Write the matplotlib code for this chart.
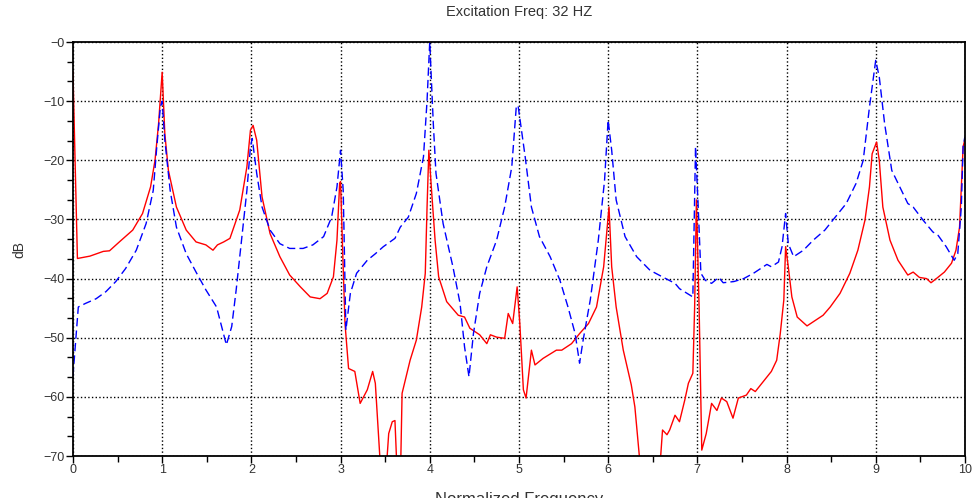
import matplotlib
matplotlib.use('Agg')
import matplotlib.pyplot as plt
from matplotlib.ticker import MultipleLocator, FuncFormatter

plt.rcParams['font.family'] = ['Liberation Sans', 'DejaVu Sans']

# red (solid) response
red_x = [0.0, 0.05, 0.19, 0.34, 0.41, 0.52, 0.67, 0.78, 0.87, 0.92, 0.96, 1.0,
         1.03, 1.07, 1.16, 1.27, 1.38, 1.49, 1.57, 1.62, 1.69, 1.76, 1.87, 1.95,
         1.99, 2.02, 2.06, 2.12, 2.21, 2.32, 2.43, 2.55, 2.66, 2.77, 2.85, 2.92,
         2.96, 2.99, 3.0, 3.02, 3.05, 3.09, 3.16, 3.22, 3.30, 3.36, 3.39, 3.44,
         3.50, 3.54, 3.58, 3.61, 3.64, 3.67, 3.69, 3.78, 3.85, 3.91, 3.95, 3.97,
         3.99, 4.02, 4.06, 4.10, 4.19, 4.32, 4.39, 4.45, 4.56, 4.64, 4.68, 4.75,
         4.84, 4.88, 4.93, 4.98, 5.01, 5.05, 5.08, 5.14, 5.18, 5.27, 5.42, 5.48,
         5.59, 5.68, 5.78, 5.87, 5.95, 5.99, 6.01, 6.04, 6.09, 6.17, 6.26, 6.30,
         6.35, 6.45, 6.58, 6.61, 6.66, 6.69, 6.75, 6.80, 6.86, 6.90, 6.95, 6.97,
         6.99, 7.02, 7.05, 7.10, 7.16, 7.22, 7.27, 7.33, 7.40, 7.46, 7.55, 7.60,
         7.65, 7.74, 7.83, 7.89, 7.93, 7.97, 7.99, 8.02, 8.06, 8.12, 8.23, 8.30,
         8.41, 8.49, 8.60, 8.71, 8.80, 8.88, 8.93, 8.96, 9.01, 9.04, 9.08, 9.16,
         9.25, 9.36, 9.42, 9.49, 9.57, 9.62, 9.68, 9.77, 9.85, 9.90, 9.94, 9.98,
         10.0]
red_db = [-5.0, -36.6, -36.2, -35.4, -35.3, -33.8, -31.8, -29.0, -24.5, -20.0, -13.8, -5.1,
          -15.5, -21.7, -27.9, -31.8, -33.8, -34.3, -35.2, -34.3, -33.8, -33.2, -28.4, -21.1,
          -14.9, -14.1, -16.6, -26.2, -32.4, -36.3, -39.4, -41.4, -43.1, -43.4, -42.5, -39.7,
          -33.5, -23.9, -23.6, -33.5, -47.6, -55.2, -55.7, -61.1, -58.8, -55.7, -57.7, -70.0,
          -75.0, -66.2, -64.2, -64.0, -75.0, -75.0, -59.4, -53.8, -50.4, -44.8, -39.1, -27.9,
          -18.3, -25.0, -33.5, -39.7, -43.9, -46.2, -46.5, -48.4, -49.5, -51.0, -49.5, -49.9,
          -50.1, -45.9, -47.6, -41.4, -47.6, -58.8, -60.2, -52.1, -54.6, -53.5, -52.1, -52.1,
          -51.0, -49.3, -47.6, -44.8, -38.0, -31.3, -27.9, -38.0, -44.8, -52.1, -58.0, -61.7,
          -70.0, -76.0, -72.0, -65.6, -66.4, -65.6, -63.1, -64.2, -60.5, -57.7, -56.0, -44.8,
          -26.7, -44.8, -69.0, -66.2, -61.1, -62.3, -60.2, -60.8, -63.6, -60.2, -59.7, -58.6,
          -59.1, -57.4, -55.7, -53.8, -49.3, -43.6, -34.6, -38.0, -43.1, -46.5, -48.0, -47.3,
          -46.2, -44.8, -42.5, -39.1, -35.2, -30.1, -24.5, -18.9, -16.9, -20.0, -27.9, -33.5,
          -36.9, -39.4, -38.9, -39.8, -40.0, -40.7, -40.0, -38.9, -37.4, -35.2, -31.3, -17.7,
          -16.5]

# blue (dashed) response
blue_x = [0.0, 0.06, 0.14, 0.26, 0.37, 0.48, 0.59, 0.71, 0.82, 0.90, 0.94, 0.98,
          1.0, 1.03, 1.09, 1.16, 1.27, 1.38, 1.49, 1.61, 1.72, 1.78, 1.83, 1.89,
          1.95, 1.99, 2.01, 2.06, 2.12, 2.21, 2.32, 2.43, 2.58, 2.69, 2.81, 2.90,
          2.96, 3.0, 3.03, 3.06, 3.11, 3.18, 3.30, 3.39, 3.48, 3.61, 3.67, 3.76,
          3.85, 3.93, 3.97, 4.0, 4.04, 4.07, 4.15, 4.26, 4.34, 4.39, 4.44, 4.49,
          4.56, 4.64, 4.75, 4.84, 4.92, 4.97, 4.99, 5.07, 5.14, 5.23, 5.35, 5.46,
          5.55, 5.63, 5.68, 5.72, 5.80, 5.89, 5.96, 6.0, 6.04, 6.09, 6.19, 6.32,
          6.47, 6.62, 6.75, 6.80, 6.95, 6.98, 7.01, 7.04, 7.09, 7.16, 7.24, 7.29,
          7.41, 7.52, 7.63, 7.78, 7.83, 7.91, 7.95, 7.99, 8.02, 8.08, 8.19, 8.30,
          8.43, 8.52, 8.67, 8.78, 8.86, 8.93, 9.0, 9.04, 9.10, 9.18, 9.27, 9.36,
          9.42, 9.53, 9.64, 9.70, 9.79, 9.88, 9.92, 9.96, 9.98, 10.0]
blue_db = [-56.5, -44.8, -44.2, -43.4, -42.2, -40.5, -38.3, -35.2, -30.7, -25.1, -17.7, -11.0,
           -10.0, -16.6, -25.1, -31.3, -35.8, -38.9, -41.9, -44.8, -51.2, -48.1, -41.9, -33.5,
           -25.1, -17.7, -16.3, -22.2, -27.9, -31.8, -34.1, -34.9, -34.9, -34.3, -32.9, -29.6,
           -24.5, -18.3, -25.1, -48.7, -42.5, -39.1, -36.9, -35.8, -34.6, -33.2, -31.3, -29.6,
           -25.6, -19.4, -9.9, 0.0, -13.8, -22.2, -30.7, -38.0, -44.2, -51.5, -56.6, -49.3,
           -42.5, -38.0, -33.5, -27.9, -21.1, -11.0, -10.7, -19.4, -27.9, -32.9, -36.3, -40.3,
           -44.8, -49.3, -54.3, -50.4, -43.6, -33.5, -23.4, -13.2, -18.3, -26.7, -32.9, -36.3,
           -38.6, -39.8, -40.8, -41.7, -43.1, -17.7, -27.9, -39.1, -40.3, -40.8, -39.8, -40.7,
           -40.5, -40.0, -39.1, -37.6, -38.0, -37.2, -34.6, -29.0, -34.1, -36.3, -35.2, -33.5,
           -31.8, -30.1, -27.3, -23.9, -20.0, -11.0, -3.1, -5.9, -13.8, -21.7, -24.5, -27.3,
           -27.9, -30.1, -32.1, -32.7, -34.6, -36.9, -35.8, -27.9, -17.7, -16.0]

x_ticks = list(range(0, 11))
y_ticks = list(range(-70, 1, 10))

fig = plt.figure(figsize=(9.78, 4.98), dpi=100)
ax = fig.add_axes([0.0746, 0.0843, 0.912, 0.8313])

ax.plot(red_x, red_db, color='#ff0000', linewidth=1.0)
ax.plot(blue_x, blue_db, color='#0000ff', linewidth=1.0, linestyle=(0, (6, 3)))

ax.set_xlim(0, 10)
ax.set_ylim(-70, 0)
ax.set_xticks(x_ticks)
ax.set_yticks(y_ticks)
ax.xaxis.set_minor_locator(MultipleLocator(0.5))
ax.yaxis.set_minor_locator(MultipleLocator(10 / 3))
ax.yaxis.set_major_formatter(FuncFormatter(lambda v, p: '\u2212%d' % abs(round(v))))

ax.tick_params(which='major', direction='out', length=5, width=1, labelsize=9, pad=1,
               colors='black', labelcolor='#333333')
ax.tick_params(which='minor', direction='out', length=4, width=1)
ax.grid(True, which='major', color='black', linestyle=':', linewidth=1.0)

for s in ax.spines.values():
    s.set_linewidth(1.3)

ax.set_title('Excitation Freq: 32 HZ', fontsize=10.5, color='#333333', pad=19)
ax.set_ylabel('dB', fontsize=10, color='#333333', labelpad=12)
ax.set_xlabel('Normalized Frequency', fontsize=12, color='#333333', labelpad=11)

plt.savefig('out.png', dpi=100)
